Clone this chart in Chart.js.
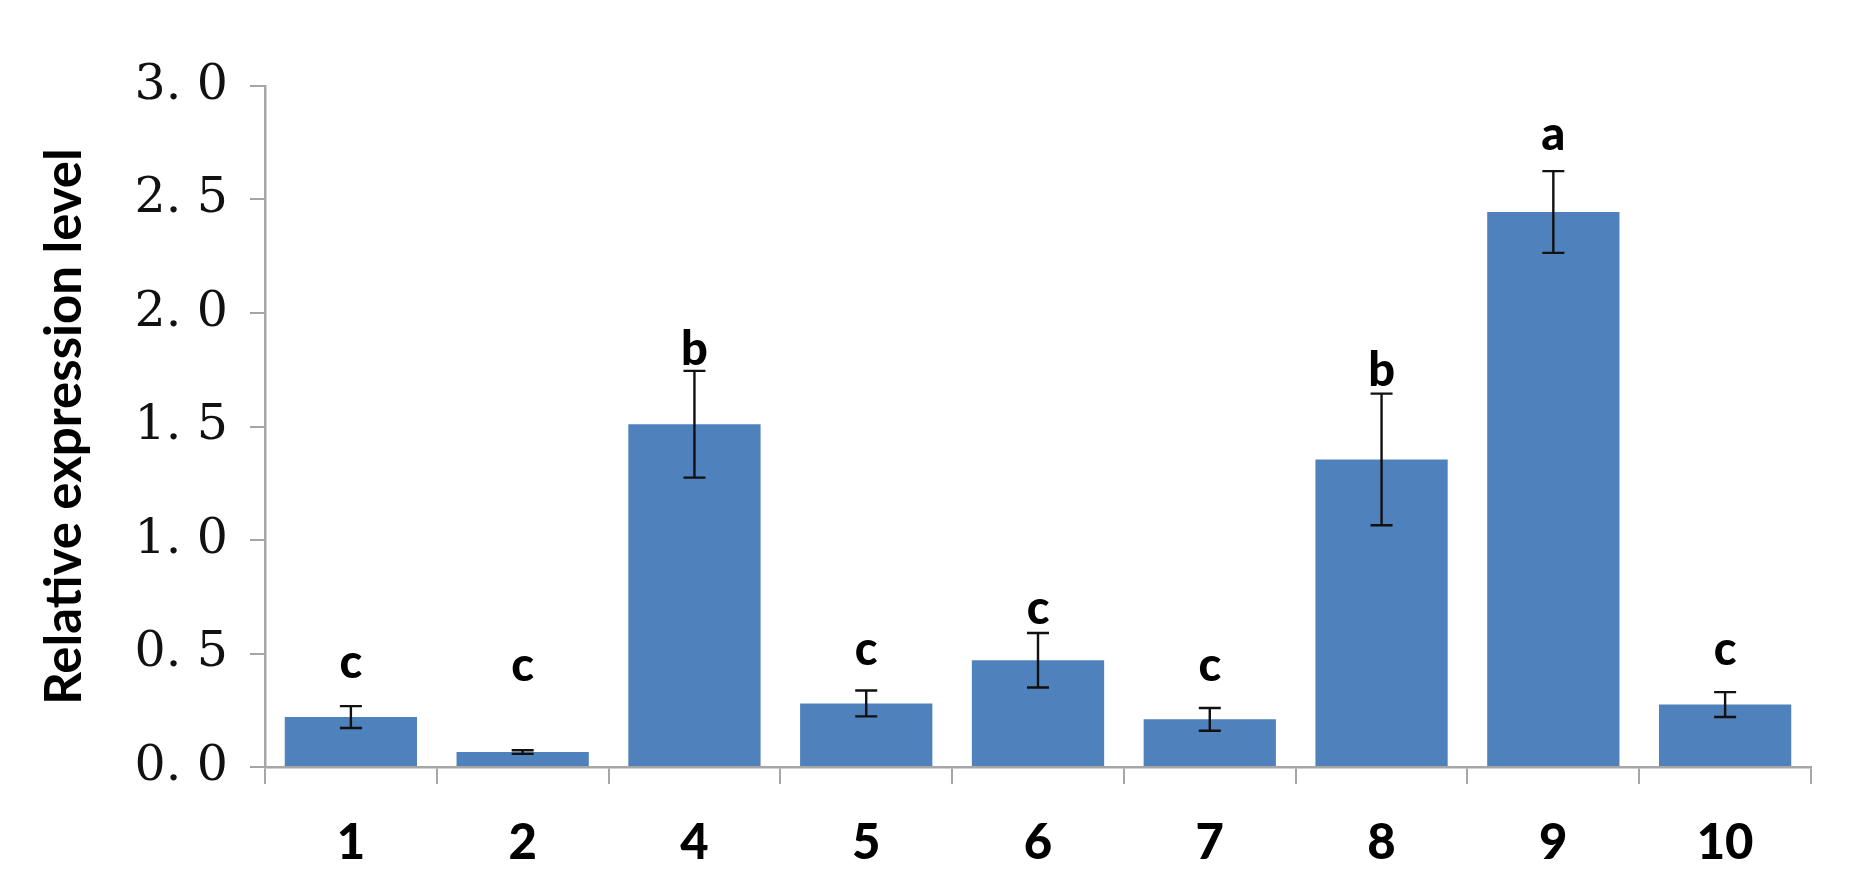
<!DOCTYPE html>
<html>
<head>
<meta charset="utf-8">
<script src="https://cdn.jsdelivr.net/npm/chart.js@4"></script>
<style>
  html, body { margin: 0; padding: 0; background: #fff; }
  #wrap { width: 1851px; height: 891px; }
</style>
</head>
<body>
<div id="wrap"><canvas id="c" width="1851" height="891"></canvas></div>
<script>
const categories = ["1", "2", "4", "5", "6", "7", "8", "9", "10"];
const values = [0.22, 0.066, 1.51, 0.28, 0.47, 0.21, 1.355, 2.445, 0.275];
const errors = [0.048, 0.008, 0.235, 0.057, 0.12, 0.05, 0.29, 0.18, 0.055];
const letters = ["c", "c", "b", "c", "c", "c", "b", "a", "c"];
const letterBaseline = [0.39, 0.38, 1.77, 0.45, 0.63, 0.38, 1.68, 2.72, 0.45];
const yTickLabels = ["0. 0", "0. 5", "1. 0", "1. 5", "2. 0", "2. 5", "3. 0"];
const yTitle = "Relative expression level";

const errorPlugin = {
  id: 'errorBars',
  afterDatasetsDraw(chart) {
    const ctx = chart.ctx;
    const x = chart.scales.x, y = chart.scales.y;
    ctx.save();
    ctx.strokeStyle = '#111';
    ctx.lineWidth = 2.4;
    const cap = 11;
    values.forEach((v, i) => {
      const px = x.getPixelForValue(i);
      const top = y.getPixelForValue(v + errors[i]);
      const bot = y.getPixelForValue(v - errors[i]);
      ctx.beginPath();
      ctx.moveTo(px, top); ctx.lineTo(px, bot);
      ctx.moveTo(px - cap, top); ctx.lineTo(px + cap, top);
      ctx.moveTo(px - cap, bot); ctx.lineTo(px + cap, bot);
      ctx.stroke();
    });
    ctx.fillStyle = '#000';
    ctx.font = '900 47px Lato';
    ctx.textAlign = 'center';
    ctx.textBaseline = 'alphabetic';
    letters.forEach((t, i) => {
      const px = x.getPixelForValue(i);
      ctx.fillText(t, px, y.getPixelForValue(letterBaseline[i]));
    });
    ctx.restore();
  }
};

new Chart(document.getElementById('c'), {
  type: 'bar',
  data: {
    labels: categories,
    datasets: [{
      data: values,
      backgroundColor: '#4F81BD',
      borderWidth: 0,
      categoryPercentage: 1.0,
      barPercentage: 0.77
    }]
  },
  options: {
    responsive: false,
    animation: false,
    devicePixelRatio: 1,
    layout: { padding: { left: 0, top: 86, right: 40, bottom: 0 } },
    plugins: { legend: { display: false }, tooltip: { enabled: false } },
    scales: {
      x: {
        afterFit: s => { s.height = 124; },
        grid: { display: true, drawOnChartArea: false, drawTicks: true, tickLength: 17, color: '#a6a6a6', lineWidth: 2, offset: true },
        border: { display: true, color: '#a6a6a6', width: 2.5 },
        ticks: { color: '#000', font: { family: 'Lato', weight: '900', size: 49 }, padding: 30 }
      },
      y: {
        min: 0, max: 3,
        afterFit: s => { s.width = 265; },
        ticks: {
          stepSize: 0.5,
          color: '#111',
          font: { family: 'DejaVu Serif', size: 49 },
          padding: 22,
          callback: (v, i) => yTickLabels[i]
        },
        grid: { display: true, drawOnChartArea: false, drawTicks: true, tickLength: 15, color: '#a6a6a6', lineWidth: 2 },
        border: { display: true, color: '#a6a6a6', width: 2.5 },
        title: {
          display: true, text: yTitle, color: '#000',
          font: { family: 'Lato', weight: '700', size: 51 },
          padding: { top: 34, bottom: 0 }
        }
      }
    }
  },
  plugins: [errorPlugin]
});
</script>
</body>
</html>
